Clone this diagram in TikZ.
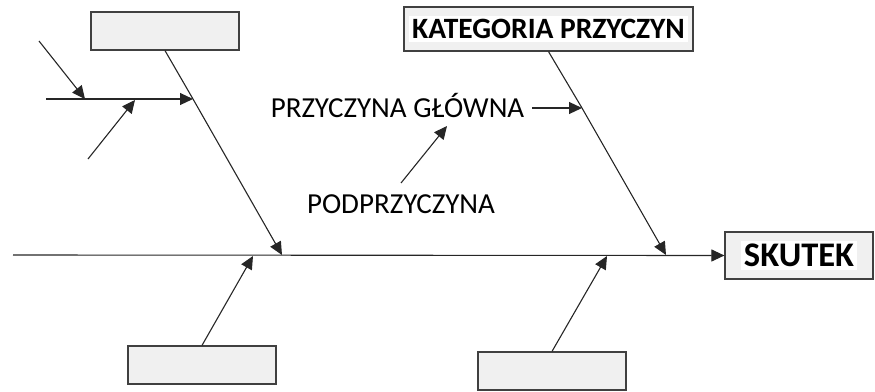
\documentclass[tikz,border=0pt]{standalone}
\usepackage{fontspec}
\setmainfont{Carlito}
\usetikzlibrary{arrows.meta}
\definecolor{boxfill}{HTML}{F0F0F0}
\definecolor{boxline}{HTML}{404040}
\tikzset{
  catbox/.style={draw=boxline, fill=boxfill, line width=1.2pt, minimum width=148pt, minimum height=38pt, inner sep=0pt},
  conn/.style={line width=1.1pt, draw=black!85, -{Triangle[length=13pt,width=12pt]}},
  plain/.style={line width=1.1pt, draw=black!85},
  lbl/.style={font=\fontsize{29}{35}\selectfont, inner sep=0pt, anchor=base},
  hl/.style={fill=white, inner sep=3pt, font=\bfseries\fontsize{29.5}{35}\selectfont}
}
\begin{document}
\begin{tikzpicture}[x=1pt,y=-1pt]
\useasboundingbox (0,0) rectangle (875,391);
% boxes
\node[catbox] (b1) at (165,31) {};
\node[catbox, minimum width=289pt, minimum height=44pt] (kat) at (548.5,29) {};
\node[hl] (katt) at (kat.center) {KATEGORIA PRZYCZYN};
\node[catbox] (b3) at (202,365) {};
\node[catbox] (b4) at (552,371) {};
\node[catbox, minimum height=47pt] (sk) at (799,255.5) {};
\node[hl, font=\bfseries\fontsize{34.5}{40}\selectfont] (skt) at (sk.center) {SKUTEK};
% labels
\node[lbl] (glow) at (397.5,117.5) {PRZYCZYNA GŁÓWNA};
\node[lbl] (pod) at (401,213.5) {PODPRZYCZYNA};
% coordinates
\coordinate (s0) at (13,255);
\coordinate (j1) at (282,255);
\coordinate (j2) at (666,255);
\coordinate (j3) at (253,256);
\coordinate (j4) at (607,256);
\coordinate (h0) at (46,99);
\coordinate (h1) at (193,99);
\coordinate (a0) at (39,41);
\coordinate (a1) at (85,99);
\coordinate (c0) at (88,159);
\coordinate (c1) at (135,100);
\coordinate (g0) at (532,108);
\coordinate (g1) at (582,108);
\coordinate (p0) at (401,183);
\coordinate (p1) at (447,126);
% connectors
\draw[conn] (s0) -- (sk.west);
\draw[plain] (b1.south) -- (h1);
\draw[conn] (h1) -- (j1);
\draw[plain] (kat.south) -- (g1);
\draw[conn] (g1) -- (j2);
\draw[conn] (b3.north) -- (j3);
\draw[conn] (b4.north) -- (j4);
\draw[conn] (h0) -- (h1);
\draw[conn] (a0) -- (a1);
\draw[conn] (c0) -- (c1);
\draw[conn] (g0) -- (g1);
\draw[conn] (p0) -- (p1);
\end{tikzpicture}
\end{document}
